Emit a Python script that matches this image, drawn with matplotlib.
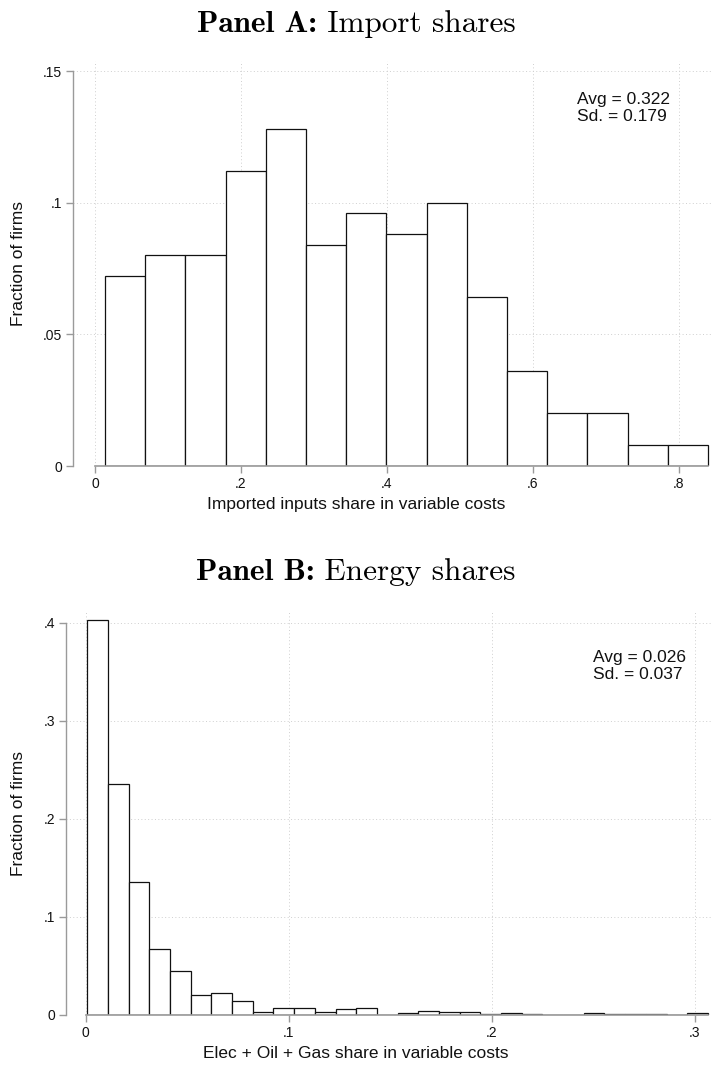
import matplotlib
matplotlib.use("Agg")
import matplotlib.pyplot as plt
import numpy as np

plt.rcParams['font.family'] = ['Liberation Sans', 'DejaVu Sans']

# ---------------- Data ----------------
# Panel A: import shares histogram
a_bin_start = 0.0137
a_bin_width = 0.05507
a_heights = [0.072, 0.080, 0.080, 0.112, 0.128, 0.084, 0.096, 0.088,
             0.100, 0.064, 0.036, 0.020, 0.020, 0.008, 0.008]
a_xticks = [0, 0.2, 0.4, 0.6, 0.8]
a_xticklabels = ['0', '.2', '.4', '.6', '.8']
a_yticks = [0, 0.05, 0.10, 0.15]
a_yticklabels = ['0', '.05', '.1', '.15']
a_title_bold = 'Panel A:'
a_title_rest = 'Import shares'
a_xlabel = 'Imported inputs share in variable costs'
a_stats = 'Avg = 0.322\nSd. = 0.179'

# Panel B: energy shares histogram
b_bin_start = 0.0009
b_bin_width = 0.01019
b_heights = [0.403, 0.236, 0.136, 0.067, 0.045, 0.020, 0.022, 0.014,
             0.0035, 0.0075, 0.0075, 0.0035, 0.0065, 0.0075, 0.0,
             0.002, 0.0045, 0.0035, 0.0027, 0.001, 0.002, 0.001, 0.0,
             0.0, 0.002, 0.001, 0.001, 0.001, 0.0, 0.002]
b_xticks = [0, 0.1, 0.2, 0.3]
b_xticklabels = ['0', '.1', '.2', '.3']
b_yticks = [0, 0.1, 0.2, 0.3, 0.4]
b_yticklabels = ['0', '.1', '.2', '.3', '.4']
b_title_bold = 'Panel B:'
b_title_rest = 'Energy shares'
b_xlabel = 'Elec + Oil + Gas share in variable costs'
b_stats = 'Avg = 0.026\nSd. = 0.037'

ylabel = 'Fraction of firms'

# ---------------- Figure ----------------
W, H = 712, 1065
fig = plt.figure(figsize=(W / 100, H / 100), dpi=100)
fig.patch.set_facecolor('white')
renderer = fig.canvas.get_renderer()

AX_COL = '#9a9a9a'
GRID_COL = '#cfcfcf'
TXT = '#111111'
TITLE_SIZE = 22.5


def px_rect(l, t, r, b):
    return [l / W, 1 - b / H, (r - l) / W, (b - t) / H]


def title(bold, rest, y_px):
    y = 1 - y_px / H
    tb = fig.text(0, y, bold, fontsize=TITLE_SIZE, family='cmb10',
                  ha='left', va='baseline')
    tr = fig.text(0, y, ' ' + rest, fontsize=TITLE_SIZE, family='cmr10',
                  ha='left', va='baseline')
    wb = tb.get_window_extent(renderer).width
    wr = tr.get_window_extent(renderer).width
    x0 = (W - (wb + wr)) / 2
    tb.set_x(x0 / W)
    tr.set_x((x0 + wb) / W)


def panel(rect, start, width, heights, xlim, ylim, xticks, xtl, yticks, ytl,
          title_bold, title_rest, title_y, xlabel, xlabel_y, stats, stats_xy,
          ylabel_x=19):
    ax = fig.add_axes(px_rect(*rect))
    n = len(heights)
    lefts = start + width * np.arange(n)
    ax.bar(lefts, heights, width=width, align='edge', facecolor='white',
           edgecolor='#111111', linewidth=0.9, zorder=3)
    ax.set_xlim(*xlim)
    ax.set_ylim(*ylim)
    ax.set_xticks(xticks)
    ax.set_xticklabels(xtl)
    ax.set_yticks(yticks)
    ax.set_yticklabels(ytl)
    ax.grid(True, linestyle=(0, (1, 2.5)), color=GRID_COL, linewidth=0.7, zorder=0)
    ax.set_axisbelow(True)
    for s in ['top', 'right']:
        ax.spines[s].set_visible(False)
    ax.spines['left'].set_color(AX_COL)
    ax.spines['left'].set_linewidth(1.0)
    ax.spines['left'].set_bounds(yticks[0], yticks[-1])
    ax.spines['bottom'].set_color(AX_COL)
    ax.spines['bottom'].set_linewidth(1.2)
    ax.spines['bottom'].set_bounds(0, start + width * n)
    ax.spines['bottom'].set_zorder(4)
    ax.tick_params(axis='both', colors=AX_COL, labelcolor=TXT,
                   labelsize=10, length=5, width=1.0)
    ax.tick_params(axis='x', pad=3)
    ax.tick_params(axis='y', pad=3)
    ax.set_xlabel(xlabel, fontsize=12.5, color=TXT)
    ax.xaxis.set_label_coords(0.5, 1 - xlabel_y / H, transform=fig.transFigure)
    ax.xaxis.label.set_va('center')
    ax.set_ylabel(ylabel, fontsize=12.5, color=TXT)
    pos = ax.get_position()
    ax.yaxis.set_label_coords(ylabel_x / W, pos.y0 + pos.height / 2,
                              transform=fig.transFigure)
    ax.yaxis.label.set_va('center')
    fig.text(stats_xy[0] / W, 1 - stats_xy[1] / H, stats, fontsize=12.5,
             ha='left', va='top', color=TXT, linespacing=1.2)
    title(title_bold, title_rest, title_y)
    return ax


panel((73, 61, 712, 466), a_bin_start, a_bin_width, a_heights,
      (-22 / 730, 617 / 730), (0, 0.15 * 405 / 395),
      a_xticks, a_xticklabels, a_yticks, a_yticklabels,
      a_title_bold, a_title_rest, 32, a_xlabel, 504, a_stats, (577, 92))

panel((66, 612, 712, 1015), b_bin_start, b_bin_width, b_heights,
      (-19.5 / 2030, 626.5 / 2030), (0, 0.4 * 403 / 392),
      b_xticks, b_xticklabels, b_yticks, b_yticklabels,
      b_title_bold, b_title_rest, 580, b_xlabel, 1053, b_stats, (593, 650))

fig.savefig('out.png', dpi=100, facecolor='white')
